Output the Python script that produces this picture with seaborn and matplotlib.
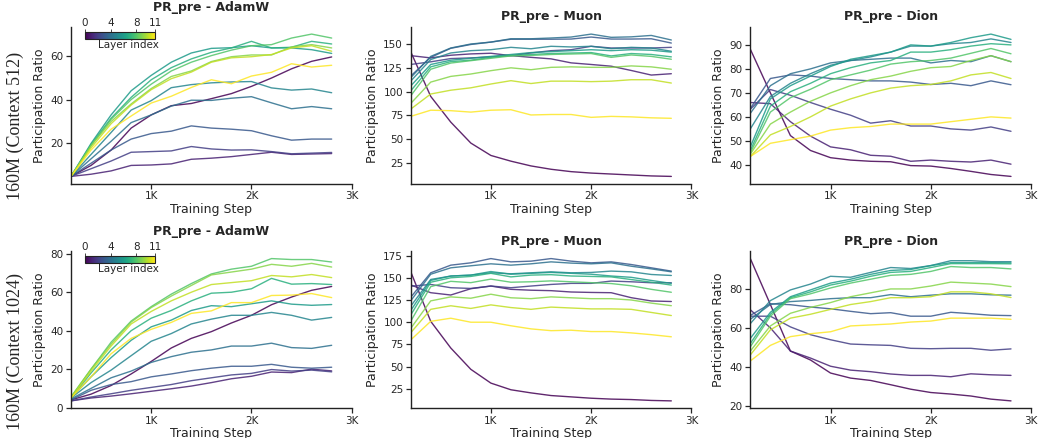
import matplotlib
matplotlib.use("Agg")
import matplotlib.pyplot as plt
import numpy as np
import pandas as pd
import seaborn as sns
from matplotlib.colors import Normalize
from matplotlib.cm import ScalarMappable

# ---------------------------------------------------------------- data
steps = [200, 400, 600, 800, 1000, 1200, 1400, 1600, 1800, 2000, 2200, 2400, 2600, 2800]
optimizers = ["AdamW", "Muon", "Dion"]
row_labels = ["160M (Context 512)", "160M (Context 1024)"]
x_ticks = [1000, 2000, 3000]
x_tick_labels = ["1K", "2K", "3K"]
cbar_ticks = [0, 4, 8, 11]

# participation ratio per layer (rows = layer 0..11, columns = steps)
adamw_512 = [
    [5, 10, 17, 27, 33, 37.2, 38.2, 40.4, 42.7, 46, 49.8, 54, 57.4, 59.4],
    [5, 6, 7.5, 10, 10.2, 10.7, 12.8, 13.3, 14, 15, 16, 15, 15.2, 15.4],
    [5, 8.5, 12, 16, 16.3, 16.6, 18.6, 17.5, 17, 17.1, 16.3, 15.3, 15.6, 15.9],
    [5, 11, 17, 22, 24.5, 25.6, 28, 27, 26.5, 25.8, 23.5, 21.5, 22, 22],
    [5, 13, 21, 29.5, 33, 37, 39.7, 39.6, 40.6, 41.3, 38.5, 35.8, 36.8, 35.8],
    [5, 15, 25, 35.2, 39.5, 45.4, 46.8, 47.6, 48, 48.2, 45.3, 44.3, 44.8, 43.1],
    [5, 20, 33, 44, 51, 57, 61.2, 63.3, 63.6, 64.5, 63.5, 63.5, 62.7, 61],
    [5, 19.5, 31.5, 41, 49, 54.5, 58.5, 61.5, 63.5, 66.5, 63.5, 63.8, 66.5, 65.3],
    [5, 19, 31, 40, 47, 53, 57, 60, 62.5, 64.5, 65, 68, 69.8, 68],
    [5, 19, 30, 38, 45, 50.5, 53, 57.3, 59.5, 60.3, 60.3, 64, 65, 63.5],
    [5, 18, 29, 37.5, 44.5, 49.5, 52.5, 57, 59, 59.5, 60.5, 63.5, 64.5, 62],
    [5, 17, 26.5, 32.5, 38.4, 41.5, 45.5, 49, 47.2, 50.7, 52.4, 56.3, 54.8, 55.6],
]
muon_512 = [
    [142, 95, 68, 46, 33, 27, 22, 18.5, 16, 14.5, 13.5, 12.5, 11.5, 11],
    [137.8, 135.4, 138.2, 139.6, 140.3, 137.8, 136, 134.4, 130.2, 128.5, 126.7, 122.2, 117.4, 118.8],
    [128.5, 131.3, 134.7, 135.4, 136.5, 137.8, 140.6, 143, 144, 147.6, 145.8, 145.8, 145.8, 146.5],
    [116.3, 136, 145.5, 149.5, 152, 155, 155, 155, 155.2, 157.3, 155.2, 155.2, 155.5, 151],
    [114.6, 137, 145.8, 150, 152, 155.5, 155.5, 156.3, 157.3, 160.4, 157, 157.5, 159, 154.2],
    [111, 133.7, 140.6, 143, 144, 146.5, 145, 147.6, 146.9, 147.6, 145.1, 146.5, 145.8, 142.4],
    [105.9, 128.5, 133, 135, 137, 139, 141, 142, 143, 144, 143, 144, 143.5, 141.5],
    [100.7, 126, 131.5, 133, 136, 138, 139, 140, 140.5, 141, 137.5, 140, 139, 136.5],
    [95.5, 123.5, 130, 132.5, 135, 137.5, 138, 139, 139.5, 140, 136, 138.5, 137, 134],
    [87.5, 110, 116, 118.5, 122, 125, 123, 125.5, 126, 125.5, 125.5, 127, 126, 123.5],
    [81.6, 97.5, 101.5, 104, 108, 111.5, 108.5, 111, 111, 110.5, 111, 112.5, 112.5, 109],
    [74, 80.5, 80, 78.5, 80.5, 81, 75.5, 76, 76, 73, 74, 73.5, 72.5, 72],
]
dion_512 = [
    [88.2, 70, 52.2, 46, 43, 42, 41.5, 41.3, 39.7, 39.5, 38.5, 37.3, 36, 35.2],
    [66, 65.5, 58, 52, 47.5, 46.3, 44, 43.6, 41.5, 42, 41.5, 41.2, 42, 40.3],
    [63.2, 71.4, 69, 66, 63.2, 60.7, 57.4, 58.4, 56.2, 56.2, 55, 54.5, 55.8, 54],
    [63.5, 76, 77.5, 77, 76, 75.5, 75, 75, 74.5, 73.5, 74, 73, 75, 73.4],
    [61.5, 73, 78, 80, 82.5, 83.5, 84, 84.5, 84.5, 82.5, 83.5, 83, 85.5, 83],
    [55, 68.5, 74, 78, 81.5, 83.5, 85, 87, 89.5, 89.5, 90.5, 91, 92.5, 91],
    [47.5, 67.5, 73, 77, 81, 84, 85.5, 87, 90, 89.5, 91, 93, 94.5, 92.3],
    [46, 64.5, 70.5, 74, 78, 80.5, 82.5, 83.5, 87, 87, 88, 89.5, 90.5, 90],
    [45, 62, 68, 71.5, 75.5, 77.5, 79.5, 82, 83, 83.5, 84.5, 86.5, 88.5, 86.3],
    [44.5, 57, 62, 66.5, 70, 73, 75.5, 77, 79, 80.5, 81, 83.5, 85.5, 83],
    [43.5, 52.5, 56, 60, 64.5, 67.5, 70, 72, 73, 73.5, 75, 77.5, 78.5, 76],
    [43.5, 49, 50.5, 52, 54.5, 55.5, 56, 57, 57, 57, 58, 59, 60, 59.5],
]
adamw_1024 = [
    [4, 7, 11.5, 17.5, 24, 31, 36, 39.5, 44, 48, 53.5, 57.5, 61, 63],
    [3.5, 5, 6, 7.2, 8.5, 9.8, 11.2, 13, 15, 16.3, 18.5, 18.2, 20, 19.1],
    [3.5, 5.5, 7.2, 9, 10.5, 12, 14, 15.5, 17, 17.8, 19.8, 19, 19.5, 18.6],
    [4, 9, 12, 13.5, 16, 17.5, 19.2, 20.5, 21.5, 21.5, 22.5, 21, 20.5, 21],
    [4.5, 10, 15.5, 19, 23.5, 26.5, 28.8, 30, 32, 32, 33.5, 31.2, 30.8, 32.4],
    [5, 13, 19.5, 27, 34.5, 38.5, 43.5, 46, 48, 48, 49.5, 48, 45.5, 46.9],
    [5, 16, 26, 35, 42, 45.5, 50.5, 53, 52.5, 54, 55.5, 53.8, 53.2, 53.6],
    [5, 18, 30, 40, 46.5, 50.5, 55.5, 59.5, 60, 61.8, 67.2, 64.2, 64.5, 64],
    [5.5, 20, 34, 45, 52.5, 59, 64.5, 69.5, 72, 73.5, 77.5, 77, 77, 75.7],
    [5.5, 20, 33, 44.5, 52, 58, 63.5, 69, 70.5, 72, 74.5, 73.5, 75, 73.1],
    [5, 19, 32, 43.5, 50, 55.5, 60, 64, 65, 66, 68.7, 68, 69.2, 67.6],
    [5, 16, 28, 36, 40.7, 44.3, 49, 50.3, 54.6, 54.6, 58.3, 58.5, 59.3, 57.2],
]
muon_1024 = [
    [157, 101, 71, 47, 31.5, 24, 20.5, 17.5, 16, 14.5, 13.5, 13, 12, 11.5],
    [142, 133.2, 130.6, 137.7, 140.7, 137, 136, 135.5, 134, 133.5, 133.2, 127.6, 123.9, 123.3],
    [140.5, 142.5, 138.8, 138, 140.7, 138.8, 140.7, 142.5, 143.7, 143.7, 146.3, 145.5, 144.4, 144.4],
    [128, 155.6, 164.2, 166.8, 171.6, 167.9, 168.7, 171.6, 168.7, 166.8, 167.9, 164.9, 161.2, 157.5],
    [124, 154, 161.2, 163.5, 165.7, 164.2, 165.7, 167.9, 166.5, 165.7, 166.8, 163, 160, 156.7],
    [118, 148.1, 151.9, 153, 155.6, 154.5, 155.6, 156.7, 155.6, 156, 157.5, 156.7, 153.7, 152.6],
    [113, 147, 152, 153, 157, 154, 155, 156, 155, 154, 152, 150.5, 147, 143.7],
    [108, 145, 150, 151.5, 155, 151, 153, 153.5, 152, 151.5, 151, 148, 145, 141.8],
    [101, 140, 146, 144.5, 148.5, 145, 145.5, 146.5, 145.5, 144.5, 143.5, 141, 137, 133.7],
    [93, 124, 128.5, 127, 131.5, 127.5, 126.5, 128.5, 127.5, 126.5, 126.5, 125, 121.5, 118.6],
    [88, 114.5, 118.5, 115.5, 119.5, 116.5, 114.5, 117, 116, 115, 115, 114.5, 111, 107.5],
    [80, 101, 104.5, 100, 100, 96, 92.5, 90.5, 91, 89.5, 89.5, 88, 86, 83.6],
]
dion_1024 = [
    [95.6, 72, 48.1, 43.5, 36.8, 34.2, 33, 30.8, 28.5, 26.8, 26, 25, 23.4, 22.5],
    [69.3, 60, 48.1, 44.5, 40.3, 38.3, 37.5, 36.3, 35.6, 35.6, 34.9, 36.4, 35.9, 35.6],
    [66, 66, 60.5, 56.5, 53.9, 51.7, 51.3, 51, 49.5, 49.3, 49.5, 49.5, 48.5, 49.2],
    [66.4, 72.4, 71.9, 70.7, 69.8, 68.5, 67.3, 67.8, 66, 66, 68, 67.3, 66.5, 66.3],
    [64.4, 72, 73.5, 74.1, 75, 75.5, 75.5, 77.1, 76, 76.8, 77.5, 77.5, 77, 76.8],
    [62.2, 74, 79.5, 82.5, 86.5, 86, 88.5, 91, 90.5, 92, 94.5, 94.5, 94, 94],
    [54.6, 68, 76, 79.5, 83, 85, 87.5, 89.5, 90, 92, 93.5, 93.5, 93.5, 93.4],
    [52, 67, 75.5, 78.5, 82, 84, 86.5, 88.5, 89, 91, 93, 93, 93, 92.9],
    [50.3, 66, 75, 77.5, 80.5, 83, 85, 87, 87.5, 89, 91.5, 91, 91, 90.3],
    [48.1, 61, 67.5, 70.5, 73, 76, 78, 80, 80, 81.5, 83.5, 83, 82.5, 81.2],
    [46.1, 59, 65, 67, 69.5, 72, 73.5, 75.5, 75.5, 76, 78.5, 78.5, 77.5, 75.6],
    [43, 51, 55.5, 57, 58, 61, 61.5, 62, 63, 63.5, 65, 65, 65, 64.4],
]

yticks_512 = [[20, 40, 60], [25, 50, 75, 100, 125, 150], [40, 50, 60, 70, 80, 90]]
yticks_1024 = [[0, 20, 40, 60, 80], [25, 50, 75, 100, 125, 150, 175], [20, 40, 60, 80]]

panels = [[adamw_512, muon_512, dion_512], [adamw_1024, muon_1024, dion_1024]]
panel_yticks = [yticks_512, yticks_1024]

# ---------------------------------------------------------------- style
sns.set_theme(style="ticks")
plt.rcParams["font.family"] = ["DejaVu Sans"]
plt.rcParams.update({
    "axes.linewidth": 1.0,
    "axes.edgecolor": "#222222",
    "xtick.major.size": 3.5,
    "ytick.major.size": 3.5,
    "xtick.major.width": 0.9,
    "ytick.major.width": 0.9,
    "xtick.labelsize": 7.5,
    "ytick.labelsize": 7.5,
    "axes.labelsize": 9,
})

fig, axes = plt.subplots(2, 3, figsize=(10.38, 4.38), dpi=100)
fig.subplots_adjust(left=0.0684, right=0.9933, top=0.9384, bottom=0.0685,
                    wspace=0.21, hspace=0.434)

norm = Normalize(vmin=0, vmax=11)


def to_frame(values):
    rows = []
    for layer, series in enumerate(values):
        for step, v in zip(steps, series):
            rows.append((step, layer, v))
    return pd.DataFrame(rows, columns=["step", "layer", "pr"])


for r in range(2):
    for c in range(3):
        ax = axes[r, c]
        df = to_frame(panels[r][c])
        sns.lineplot(data=df, x="step", y="pr", hue="layer", palette="viridis",
                     hue_norm=(0, 11), units="layer", estimator=None,
                     legend=False, linewidth=1.0, alpha=0.85, ax=ax)
        ax.set_xlim(200, 3000)
        ax.set_xticks(x_ticks)
        ax.set_xticklabels(x_tick_labels)
        ax.set_yticks(panel_yticks[r][c])
        ax.set_xlabel("Training Step", labelpad=1)
        ax.set_ylabel("Participation Ratio", labelpad=3)
        ax.set_title(f"PR_pre - {optimizers[c]}", fontweight="bold", fontsize=9, pad=5)
        ax.tick_params(pad=2)
        sns.despine(ax=ax)

    # layer colour key inside the AdamW panel
    cax = axes[r, 0].inset_axes([0.05, 0.924, 0.25, 0.045])
    cb = fig.colorbar(ScalarMappable(norm=norm, cmap="viridis"), cax=cax,
                      orientation="horizontal")
    cb.set_ticks(cbar_ticks)
    cb.outline.set_linewidth(0.8)
    cax.xaxis.set_ticks_position("top")
    cax.xaxis.set_label_position("bottom")
    cax.tick_params(labelsize=7.5, length=2, pad=1, width=0.6)
    cax.set_xlabel("Layer index", fontsize=7.5, labelpad=0)
    cax.xaxis.set_label_coords(0.62, -0.1)

    fig.text(0.0145, 1 - (126 + 225 * r) / 438, row_labels[r], rotation=90,
             va="center", ha="center", fontsize=13, family=["Liberation Serif"])

fig.savefig("out.png", dpi=100)
